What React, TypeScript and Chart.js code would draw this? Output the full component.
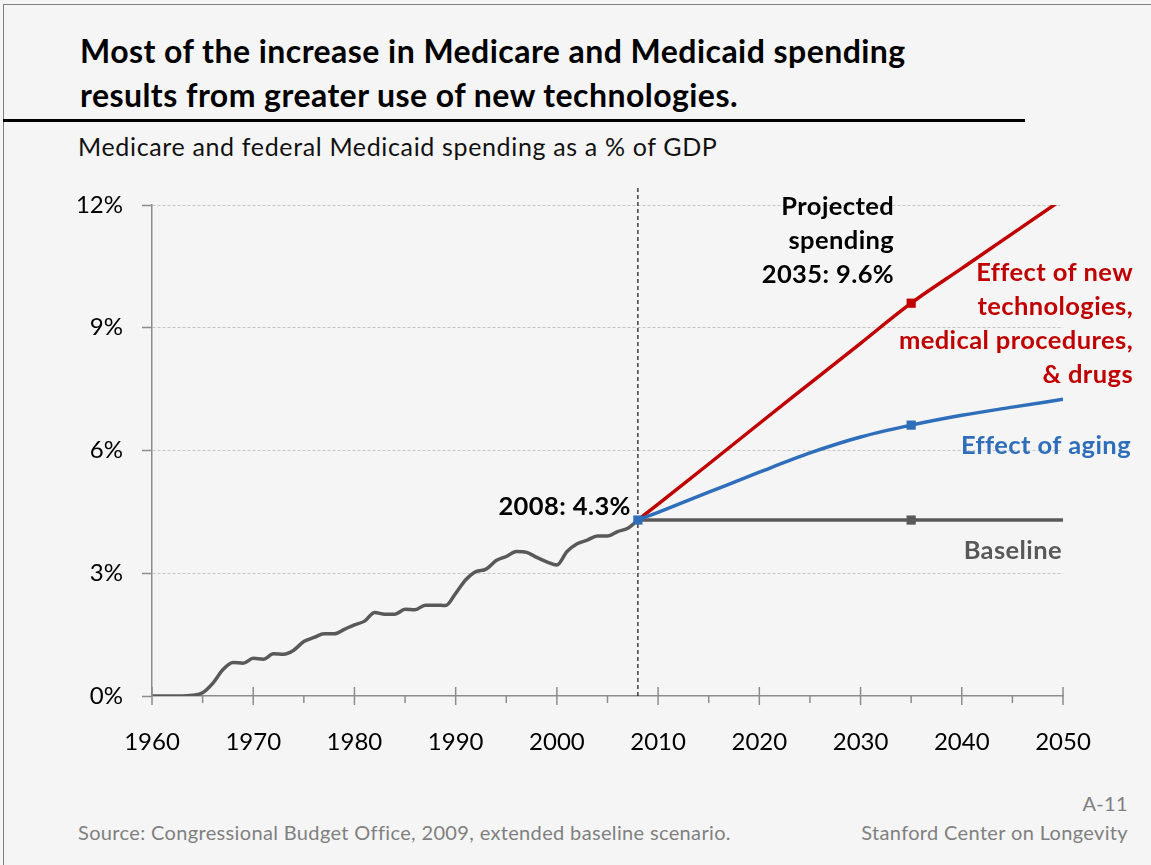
import React, { useEffect, useRef } from 'react';
import { Chart, registerables } from 'chart.js';

Chart.register(...registerables);

// ---------- data ----------
const histYears = [
  1960, 1961, 1962, 1963, 1964, 1965, 1966, 1967, 1968, 1969,
  1970, 1971, 1972, 1973, 1974, 1975, 1976, 1977, 1978, 1979,
  1980, 1981, 1982, 1983, 1984, 1985, 1986, 1987, 1988, 1989,
  1990, 1991, 1992, 1993, 1994, 1995, 1996, 1997, 1998, 1999,
  2000, 2001, 2002, 2003, 2004, 2005, 2006, 2007, 2008,
];
const histValues = [
  0, 0, 0, 0, 0.02, 0.08, 0.31, 0.64, 0.82, 0.8,
  0.92, 0.9, 1.03, 1.02, 1.12, 1.33, 1.43, 1.52, 1.52, 1.63,
  1.74, 1.83, 2.04, 2.0, 2.0, 2.12, 2.11, 2.22, 2.22, 2.21,
  2.51, 2.84, 3.04, 3.1, 3.31, 3.41, 3.53, 3.51, 3.39, 3.28,
  3.2, 3.53, 3.72, 3.81, 3.91, 3.91, 4.02, 4.1, 4.3,
];
const projYears = [2008, 2010, 2015, 2020, 2025, 2030, 2035, 2040, 2045, 2050];
const baselineValues = [4.3, 4.3, 4.3, 4.3, 4.3, 4.3, 4.3, 4.3, 4.3, 4.3];
const agingValues = [4.3, 4.49, 4.98, 5.47, 5.94, 6.33, 6.62, 6.86, 7.06, 7.25];
const techValues = [4.3, 4.69, 5.67, 6.66, 7.64, 8.62, 9.6, 10.45, 11.3, 12.15];
const markerYear = 2035;
const currentYear = 2008;
const currentValue = 4.3;
const projectedValue = 9.6;
const yMin = 0;
const yMax = 12;
const yStep = 3;
const xMin = 1960;
const xMax = 2050;
const xStep = 10;

const title = ['Most of the increase in Medicare and Medicaid spending', 'results from greater use of new technologies.'];
const subtitle = 'Medicare and federal Medicaid spending as a % of GDP';
const currentLabel = '2008: 4.3%';
const projectedLabel = ['Projected', 'spending', '2035: 9.6%'];
const techLabel = ['Effect of new', 'technologies,', 'medical procedures,', '& drugs'];
const agingLabel = ['Effect of aging'];
const baselineLabel = ['Baseline'];
const sourceText = 'Source: Congressional Budget Office, 2009, extended baseline scenario.';
const pageText = 'A-11';
const orgText = 'Stanford Center on Longevity';

// ---------- styles ----------
const FONT = 'Lato, "Open Sans", sans-serif';
const RED = '#c00000';
const BLUE = '#2f6eba';
const GRAY = '#595959';
const AXIS = '#8c8c8c';
const BG = '#f5f5f5';
const FOOT = '#808080';

const toXY = (xs: number[], ys: number[]) => xs.map((x, i) => ({ x, y: ys[i] }));

const decorPlugin = {
  id: 'decor',
  beforeDatasetsDraw(chart: any) {
    const { ctx, scales } = chart;
    const x = scales.x.getPixelForValue(currentYear);
    const yBottom = scales.y.getPixelForValue(0);
    ctx.save();
    ctx.strokeStyle = '#333333';
    ctx.lineWidth = 1.4;
    ctx.setLineDash([4, 3]);
    ctx.beginPath();
    ctx.moveTo(x, 18);
    ctx.lineTo(x, yBottom);
    ctx.stroke();
    ctx.restore();
  },
  afterDraw(chart: any) {
    const { ctx, scales } = chart;
    const xs = scales.x;
    const ys = scales.y;
    const axisY = ys.getPixelForValue(0);
    // x tick marks (major cross the axis, minor below only)
    ctx.save();
    ctx.strokeStyle = AXIS;
    ctx.lineWidth = 1.5;
    for (let yr = xMin; yr <= xMax; yr += 5) {
      const px = xs.getPixelForValue(yr);
      const major = (yr - xMin) % xStep === 0;
      ctx.beginPath();
      ctx.moveTo(px, major ? axisY - 9 : axisY);
      ctx.lineTo(px, major ? axisY + 9 : axisY + 7);
      ctx.stroke();
    }
    ctx.restore();

    const drawLines = (lines: string[], rightX: number, firstY: number, color: string) => {
      ctx.save();
      ctx.font = `bold 25.5px ${FONT}`;
      try { (ctx as any).letterSpacing = '0.4px'; } catch (e) { /* ignore */ }
      ctx.fillStyle = color;
      ctx.textAlign = 'right';
      ctx.textBaseline = 'middle';
      lines.forEach((t, i) => ctx.fillText(t, rightX, firstY + i * 34));
      ctx.restore();
    };
    const x08 = xs.getPixelForValue(currentYear);
    const x35 = xs.getPixelForValue(markerYear);
    const right = chart.chartArea.right;
    drawLines([currentLabel], x08 - 7, ys.getPixelForValue(currentValue) - 13, '#000000');
    drawLines(projectedLabel, x35 - 17, ys.getPixelForValue(yMax) + 2, '#000000');
    drawLines(techLabel, right + 70, ys.getPixelForValue(projectedValue) - 30, RED);
    drawLines(agingLabel, right + 68, ys.getPixelForValue(6.2) + 3, BLUE);
    drawLines(baselineLabel, right - 1, ys.getPixelForValue(currentValue) + 31, GRAY);
  },
};

const markerRadius = (years: number[], extra: number[] = []) => (c: any) => {
  const yr = years[c.dataIndex];
  return yr === markerYear || extra.includes(yr) ? 6.5 : 0;
};

function ChartCanvas() {
  const ref = useRef<HTMLCanvasElement | null>(null);
  useEffect(() => {
    if (!ref.current) return;
    const chart = new Chart(ref.current, {
      type: 'line',
      data: {
        datasets: [
          {
            label: 'Effect of aging',
            data: toXY(projYears, agingValues),
            borderColor: BLUE,
            backgroundColor: BLUE,
            borderWidth: 3.5,
            cubicInterpolationMode: 'monotone',
            pointStyle: 'rect',
            pointRadius: markerRadius(projYears, [currentYear]),
            pointBorderWidth: 0,
            pointHoverRadius: 0,
          },
          {
            label: 'Effect of new technologies',
            data: toXY(projYears, techValues),
            borderColor: RED,
            backgroundColor: RED,
            borderWidth: 3.5,
            cubicInterpolationMode: 'monotone',
            pointStyle: 'rect',
            pointRadius: markerRadius(projYears),
            pointBorderWidth: 0,
            pointHoverRadius: 0,
          },
          {
            label: 'Baseline',
            data: toXY(projYears, baselineValues),
            borderColor: GRAY,
            backgroundColor: GRAY,
            borderWidth: 3.5,
            pointStyle: 'rect',
            pointRadius: markerRadius(projYears),
            pointBorderWidth: 0,
            pointHoverRadius: 0,
          },
          {
            label: 'Historical',
            data: toXY(histYears, histValues),
            borderColor: GRAY,
            borderWidth: 3.5,
            cubicInterpolationMode: 'monotone',
            pointRadius: 0,
            pointHoverRadius: 0,
          },
        ],
      },
      options: {
        animation: false,
        responsive: false,
        devicePixelRatio: 1,
        layout: { padding: { top: 35, right: 88, left: 0, bottom: 0 } },
        plugins: { legend: { display: false }, tooltip: { enabled: false }, title: { display: false } },
        events: [],
        scales: {
          x: {
            type: 'linear',
            min: xMin,
            max: xMax,
            afterFit: (s: any) => { s.height = 94; },
            ticks: {
              stepSize: xStep,
              padding: 32,
              color: '#000000',
              font: { family: FONT, size: 24 },
              callback: (v: any) => String(v),
              maxRotation: 0,
            },
            grid: { display: true, drawOnChartArea: false, drawTicks: false },
            border: { color: AXIS, width: 1.5 },
          },
          y: {
            min: yMin,
            max: yMax,
            afterFit: (s: any) => { s.width = 152; },
            ticks: {
              stepSize: yStep,
              padding: 19,
              color: '#000000',
              font: { family: FONT, size: 24 },
              callback: (v: any) => `${v}%`,
            },
            grid: {
              color: (c: any) => (c.tick && c.tick.value === 0 ? 'rgba(0,0,0,0)' : '#c4c4c4'),
              lineWidth: 1,
              tickLength: 10,
              tickColor: AXIS,
              tickWidth: 1.5,
            },
            border: { color: AXIS, width: 1.5, dash: [3, 2] },
          },
        },
      },
      plugins: [decorPlugin],
    } as any);
    return () => chart.destroy();
  }, []);
  return <canvas ref={ref} width={1151} height={620} style={{ position: 'absolute', left: 0, top: 170, width: 1151, height: 620 }} />;
}

export default function App() {
  return (
    <div style={{ position: 'absolute', left: 0, top: 0, width: 1151, height: 865, background: BG, overflow: 'hidden', fontFamily: FONT }}>
      <div style={{ position: 'absolute', left: 3, top: 4, width: 1160, height: 870, borderLeft: '1.5px solid #7f7f7f', borderTop: '1.5px solid #7f7f7f' }} />
      <div style={{ position: 'absolute', left: 80, top: 29, fontSize: 32, fontWeight: 700, letterSpacing: '0.45px', lineHeight: '44px', color: '#000', whiteSpace: 'nowrap' }}>
        {title.map((t) => <div key={t}>{t}</div>)}
      </div>
      <div style={{ position: 'absolute', left: 3, top: 119, width: 1022, height: 2.5, background: '#000' }} />
      <div style={{ position: 'absolute', left: 78, top: 130, fontSize: 25, letterSpacing: '0.65px', lineHeight: '32px', color: '#111', whiteSpace: 'nowrap' }}>{subtitle}</div>
      <ChartCanvas />
      <div style={{ position: 'absolute', right: 23, top: 791, fontSize: 20, letterSpacing: '0.35px', lineHeight: '24px', color: FOOT }}>{pageText}</div>
      <div style={{ position: 'absolute', left: 78, top: 820, fontSize: 20, letterSpacing: '0.35px', lineHeight: '24px', color: FOOT, whiteSpace: 'nowrap' }}>{sourceText}</div>
      <div style={{ position: 'absolute', right: 23, top: 820, fontSize: 20, letterSpacing: '0.35px', lineHeight: '24px', color: FOOT, whiteSpace: 'nowrap' }}>{orgText}</div>
    </div>
  );
}
